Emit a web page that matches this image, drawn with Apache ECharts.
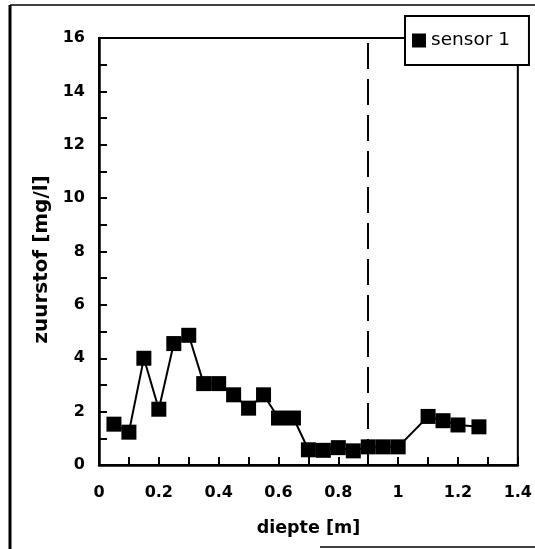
<!DOCTYPE html>
<html>
<head>
<meta charset="utf-8">
<script src="https://cdn.jsdelivr.net/npm/echarts@6/dist/echarts.min.js"></script>
<style>
  html, body { margin: 0; padding: 0; background: #fff; }
  #chart { width: 535px; height: 549px; }
</style>
</head>
<body>
<div id="chart"></div>
<script>
// Oxygen profile measured by sensor 1 along the depth
const seriesName = 'sensor 1';
const depth = [0.05, 0.1, 0.15, 0.2, 0.25, 0.3, 0.35, 0.4, 0.45, 0.5, 0.55, 0.6,
               0.65, 0.7, 0.75, 0.8, 0.85, 0.9, 0.95, 1.0, 1.1, 1.15, 1.2, 1.27];
const oxygen = [1.53, 1.23, 4.0, 2.09, 4.55, 4.86, 3.05, 3.05, 2.63, 2.13, 2.63, 1.76,
                1.76, 0.57, 0.55, 0.65, 0.53, 0.68, 0.68, 0.68, 1.82, 1.66, 1.5, 1.43];
// depth of the dashed reference line
const markerDepth = 0.9;

const xTitle = 'diepte [m]';
const yTitle = 'zuurstof [mg/l]';

const FONT = 'DejaVu Sans';

const chart = echarts.init(document.getElementById('chart'), null, { renderer: 'canvas' });

chart.setOption({
  backgroundColor: '#fff',
  animation: false,
  grid: {
    left: 99, right: 14, top: 38, bottom: 84,
    show: true, borderColor: '#000', borderWidth: 2
  },
  legend: {
    data: [seriesName],
    left: 405, top: 16,
    padding: [15, 19, 15, 7],
    itemWidth: 14, itemHeight: 14, itemGap: 2,
    icon: 'rect',
    backgroundColor: '#fff',
    borderColor: '#000', borderWidth: 2,
    textStyle: { fontFamily: FONT, fontSize: 18.5, color: '#000' }
  },
  xAxis: {
    type: 'value',
    min: 0, max: 1.4, interval: 0.1,
    name: xTitle,
    nameLocation: 'middle',
    nameGap: 54,
    nameTextStyle: { fontFamily: FONT, fontSize: 17.5, fontWeight: 'bold', color: '#000' },
    axisLine: { show: true, lineStyle: { color: '#000', width: 2.5 } },
    axisTick: { show: true, inside: true, length: 8, lineStyle: { color: '#000', width: 2 } },
    splitLine: { show: false },
    axisLabel: {
      margin: 20,
      fontFamily: FONT, fontSize: 16, fontWeight: 'bold', color: '#000',
      formatter: v => (Math.round(v * 10) % 2 === 0 ? String(+v.toFixed(1)) : '')
    }
  },
  yAxis: {
    type: 'value',
    min: 0, max: 16, interval: 1,
    name: yTitle,
    nameLocation: 'middle',
    nameGap: 46,
    nameTextStyle: {
      fontFamily: FONT, fontSize: 20, fontWeight: 'bold', color: '#000',
      padding: [0, 16, 0, 0]
    },
    axisLine: { show: true, lineStyle: { color: '#000', width: 2.5 } },
    axisTick: { show: true, inside: true, length: 8, lineStyle: { color: '#000', width: 2 } },
    splitLine: { show: false },
    axisLabel: {
      margin: 14,
      fontFamily: FONT, fontSize: 16, fontWeight: 'bold', color: '#000',
      formatter: v => (Math.round(v) % 2 === 0 ? String(Math.round(v)) : '')
    }
  },
  series: [{
    name: seriesName,
    type: 'line',
    data: depth.map((d, i) => [d, oxygen[i]]),
    symbol: 'rect',
    symbolSize: 15,
    itemStyle: { color: '#000' },
    lineStyle: { color: '#000', width: 2 },
    markLine: {
      silent: true,
      symbol: 'none',
      label: { show: false },
      lineStyle: { color: '#000', width: 2, type: [26, 10] },
      data: [{ xAxis: markerDepth }]
    },
    z: 3
  }],
  graphic: [
    // outer frame around the whole figure
    { type: 'line', shape: { x1: 10, y1: 5, x2: 10, y2: 549 }, style: { stroke: '#000', lineWidth: 3 } },
    { type: 'line', shape: { x1: 10, y1: 5, x2: 535, y2: 5 }, style: { stroke: '#000', lineWidth: 1.5 } },
    { type: 'line', shape: { x1: 320, y1: 547, x2: 535, y2: 547 }, style: { stroke: '#000', lineWidth: 1.5 } }
  ]
});
</script>
</body>
</html>
